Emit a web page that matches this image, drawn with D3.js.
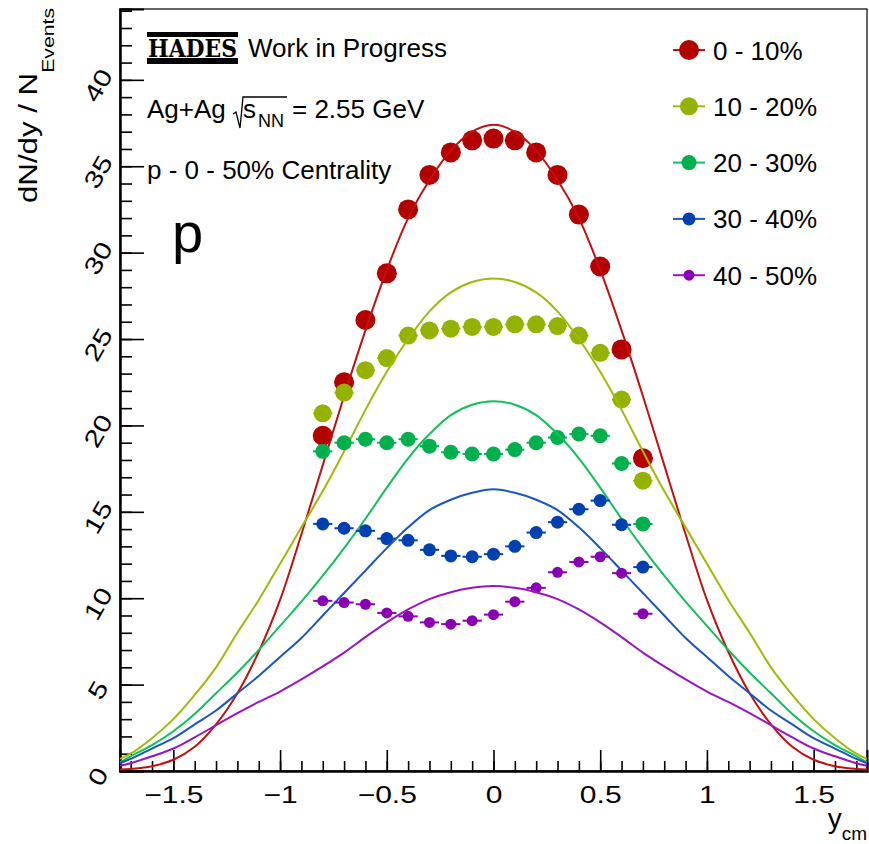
<!DOCTYPE html>
<html>
<head>
<meta charset="utf-8">
<script src="https://cdn.jsdelivr.net/npm/d3@7/dist/d3.min.js"></script>
<style>
  body { margin: 0; background: #fff; }
  text { font-family: "Liberation Sans", Arial, sans-serif; fill: #000; }
</style>
</head>
<body>
<svg id="chart" width="869" height="844"></svg>
<script>
// measured points (y_cm)
var rapidity = [-0.8, -0.7, -0.6, -0.5, -0.4, -0.3, -0.2, -0.1, 0, 0.1, 0.2, 0.3, 0.4, 0.5, 0.6, 0.7]
var dndy0_10 = [19.4, 22.5, 26.1, 28.8, 32.5, 34.5, 35.8, 36.5, 36.6, 36.5, 35.8, 34.5, 32.2, 29.2, 24.4, 18.1]
var dndy10_20 = [20.7, 21.9, 23.2, 23.9, 25.2, 25.5, 25.6, 25.7, 25.7, 25.85, 25.85, 25.75, 25.2, 24.2, 21.5, 16.8]
var dndy20_30 = [18.5, 19.0, 19.2, 19.0, 19.2, 18.8, 18.45, 18.35, 18.35, 18.6, 19.0, 19.3, 19.5, 19.4, 17.8, 14.3]
var dndy30_40 = [14.3, 14.05, 13.9, 13.45, 13.35, 12.8, 12.45, 12.4, 12.55, 13.0, 13.8, 14.4, 15.15, 15.65, 14.25, 11.8]
var dndy40_50 = [9.85, 9.75, 9.65, 9.15, 8.95, 8.6, 8.5, 8.7, 9.05, 9.8, 10.6, 11.5, 12.1, 12.4, 11.45, 9.1]

// fit curves
var fitX = [-1.75, -1.7, -1.6, -1.5, -1.4, -1.3, -1.2, -1.1, -1.0, -0.9, -0.8, -0.7, -0.6, -0.5, -0.4, -0.3, -0.2, -0.1, 0,
    0.1, 0.2, 0.3, 0.4, 0.5, 0.6, 0.7, 0.8, 0.9, 1.0, 1.1, 1.2, 1.3, 1.4, 1.5, 1.6, 1.7, 1.75]
var fit0_10 = [0.08, 0.12, 0.28, 0.65, 1.4, 2.7, 4.5, 6.9, 9.9, 13.7, 17.7, 21.7, 25.5, 29.0, 32.0, 34.2, 35.9, 37.0, 37.4,
    37.0, 35.9, 34.2, 32.0, 29.0, 25.5, 21.7, 17.7, 13.7, 9.9, 6.9, 4.5, 2.7, 1.4, 0.65, 0.28, 0.12, 0.08]
var fit10_20 = [0.7, 1.0, 1.9, 3.0, 4.4, 6.0, 8.0, 9.9, 12.0, 14.1, 16.2, 18.5, 20.9, 23.1, 25.0, 26.6, 27.7, 28.3, 28.5,
    28.3, 27.7, 26.6, 25.0, 23.1, 20.9, 18.5, 16.2, 14.1, 12.0, 9.9, 8.0, 6.0, 4.4, 3.0, 1.9, 1.0, 0.7]
var fit20_30 = [0.5, 0.85, 1.5, 2.3, 3.3, 4.5, 5.7, 7.0, 8.4, 9.8, 11.3, 12.9, 14.6, 16.4, 18.1, 19.5, 20.6, 21.2, 21.4,
    21.2, 20.6, 19.5, 18.1, 16.4, 14.6, 12.9, 11.3, 9.8, 8.4, 7.0, 5.7, 4.5, 3.3, 2.3, 1.5, 0.85, 0.5]
var fit30_40 = [0.45, 0.7, 1.3, 1.9, 2.7, 3.5, 4.5, 5.5, 6.6, 7.7, 9.0, 10.3, 11.6, 12.9, 14.1, 15.1, 15.7, 16.1, 16.3,
    16.1, 15.7, 15.1, 14.1, 12.9, 11.6, 10.3, 9.0, 7.7, 6.6, 5.5, 4.5, 3.5, 2.7, 1.9, 1.3, 0.7, 0.45]
var fit40_50 = [0.3, 0.45, 0.85, 1.3, 1.95, 2.65, 3.35, 4.0, 4.6, 5.3, 6.05, 6.85, 7.75, 8.6, 9.35, 9.95, 10.35, 10.6, 10.7,
    10.6, 10.35, 9.95, 9.35, 8.6, 7.75, 6.85, 6.05, 5.3, 4.6, 4.0, 3.35, 2.65, 1.95, 1.3, 0.85, 0.45, 0.3]

var classes = ['0 - 10%', '10 - 20%', '20 - 30%', '30 - 40%', '40 - 50%']
var markerColors = ['#b30000', '#94b300', '#00b04c', '#0040b0', '#8a00b4']
var lineColors = ['#c40f0f', '#a3b80a', '#12c05a', '#1a55c4', '#9a14c4']
var markerRadius = [10, 9, 7.5, 6.5, 5.5]

var xTicks = [-1.5, -1, -0.5, 0, 0.5, 1, 1.5]
var yTicks = [0, 5, 10, 15, 20, 25, 30, 35, 40]

;(function () {
    'use strict'

    var margin = { top: 9, right: 2, bottom: 73, left: 120 },
        width = 869 - margin.left - margin.right,
        height = 844 - margin.top - margin.bottom

    var svg = d3.select('#chart')
    var g = svg.append('g').attr('transform', 'translate(' + margin.left + ',' + margin.top + ')')

    var x = d3.scaleLinear().domain([-1.75, 1.75]).range([0, width])
    var y = d3.scaleLinear().domain([0, 44.1]).range([height, 0])

    var points = [dndy0_10, dndy10_20, dndy20_30, dndy30_40, dndy40_50]
    var fits = [fit0_10, fit10_20, fit20_30, fit30_40, fit40_50]

    // frame
    g.append('rect')
        .attr('width', width).attr('height', height)
        .attr('fill', 'none').attr('stroke', '#000').attr('stroke-width', 1.2)

    // x axis: minor then major
    var xMinor = d3.range(-17, 18).map(function (i) { return i / 10 })
    g.append('g').attr('transform', 'translate(0,' + height + ')')
        .call(d3.axisBottom(x).tickValues(xMinor).tickSize(-10).tickFormat(''))
    var xAxis = g.append('g').attr('transform', 'translate(0,' + height + ')')
        .call(d3.axisBottom(x).tickValues(xTicks).tickSize(-21).tickPadding(0).tickFormat(d3.format('')))
    xAxis.selectAll('text')
        .attr('y', 15)
        .attr('transform', 'scale(1.25,1)')
        .style('font-size', '24px')

    var yMinor = d3.range(0, 45)
    g.append('g').call(d3.axisLeft(y).tickValues(yMinor).tickSize(-12).tickFormat(''))
    var yAxis = g.append('g')
        .call(d3.axisLeft(y).tickValues(yTicks).tickSize(-24).tickFormat(d3.format('')))
    yAxis.selectAll('text')
        .attr('x', null).attr('dy', null)
        .attr('text-anchor', 'middle')
        .attr('dominant-baseline', 'central')
        .attr('transform', 'translate(-22,5) rotate(-60) scale(1.25,1)')
        .style('font-size', '24px')

    g.selectAll('.domain').attr('stroke-width', 2)
    g.selectAll('.tick line').attr('stroke-width', 1.6)

    // data
    var line = d3.line()
        .x(function (d) { return x(d[0]) })
        .y(function (d) { return y(d[1]) })
        .curve(d3.curveCatmullRom.alpha(0.5))

    points.forEach(function (vals, k) {
        var s = g.append('g')
        var data = rapidity.map(function (r, i) { return [r, vals[i]] })
        s.selectAll('line.err').data(data).enter().append('line')
            .attr('x1', function (d) { return x(d[0] - 0.045) })
            .attr('x2', function (d) { return x(d[0] + 0.045) })
            .attr('y1', function (d) { return y(d[1]) })
            .attr('y2', function (d) { return y(d[1]) })
            .attr('stroke', markerColors[k]).attr('stroke-width', 2)
        s.selectAll('circle').data(data).enter().append('circle')
            .attr('cx', function (d) { return x(d[0]) })
            .attr('cy', function (d) { return y(d[1]) })
            .attr('r', markerRadius[k])
            .attr('fill', markerColors[k])
        s.append('path')
            .datum(fitX.map(function (v, i) { return [v, fits[k][i]] }))
            .attr('d', line)
            .attr('fill', 'none')
            .attr('stroke', lineColors[k])
            .attr('stroke-width', 2)
    })

    // legend
    var legend = svg.append('g')
    classes.forEach(function (c, k) {
        var ly = 50 + k * 56.3
        legend.append('line').attr('x1', 673).attr('x2', 705).attr('y1', ly).attr('y2', ly)
            .attr('stroke', lineColors[k]).attr('stroke-width', 2)
        legend.append('circle').attr('cx', 689).attr('cy', ly).attr('r', markerRadius[k])
            .attr('fill', markerColors[k])
        legend.append('text').attr('x', 713).attr('y', ly + 9.5)
            .style('font-size', '26px').text(c)
    })

    // HADES label
    var logo = svg.append('g')
    logo.append('rect').attr('x', 147).attr('y', 32).attr('width', 91).attr('height', 5).attr('fill', '#000')
    logo.append('rect').attr('x', 147).attr('y', 58).attr('width', 91).attr('height', 6).attr('fill', '#000')
    logo.append('text').attr('x', 192.5).attr('y', 57).attr('text-anchor', 'middle')
        .attr('textLength', 89).attr('lengthAdjust', 'spacingAndGlyphs')
        .style('font-family', '"DejaVu Serif", serif').style('font-weight', 'bold').style('font-size', '25px')
        .text('HADES')
    svg.append('text').attr('x', 248).attr('y', 57).style('font-size', '26px').text('Work in Progress')

    svg.append('text').attr('x', 147).attr('y', 118).style('font-size', '26px').text('Ag+Ag')
    // square root sign with its bar
    svg.append('path').attr('d', 'M233,114 L236,112 L240,128 L243,97 L287,97')
        .attr('fill', 'none').attr('stroke', '#000').attr('stroke-width', 1.3)
    svg.append('text').attr('x', 243).attr('y', 118).style('font-size', '26px').text('s')
    svg.append('text').attr('x', 258).attr('y', 127).style('font-size', '18px').text('NN')
    svg.append('text').attr('x', 292).attr('y', 118).style('font-size', '26px').text('= 2.55 GeV')

    svg.append('text').attr('x', 147).attr('y', 179).style('font-size', '26px').text('p - 0 - 50% Centrality')
    svg.append('text').attr('x', 172).attr('y', 252).style('font-size', '56px').text('p')

    // axis titles
    var yt = svg.append('text').attr('transform', 'translate(37,203) rotate(-90) scale(1.25,1)').style('font-size', '25px')
    yt.append('tspan').text('dN/dy / N')
    yt.append('tspan').attr('dy', 17).style('font-size', '17px').text('Events')

    var xt = svg.append('text').attr('x', 867).attr('y', 828).attr('text-anchor', 'end').style('font-size', '28px')
    xt.append('tspan').text('y')
    xt.append('tspan').attr('dy', 12).style('font-size', '19px').text('cm')
})()
</script>
</body>
</html>
